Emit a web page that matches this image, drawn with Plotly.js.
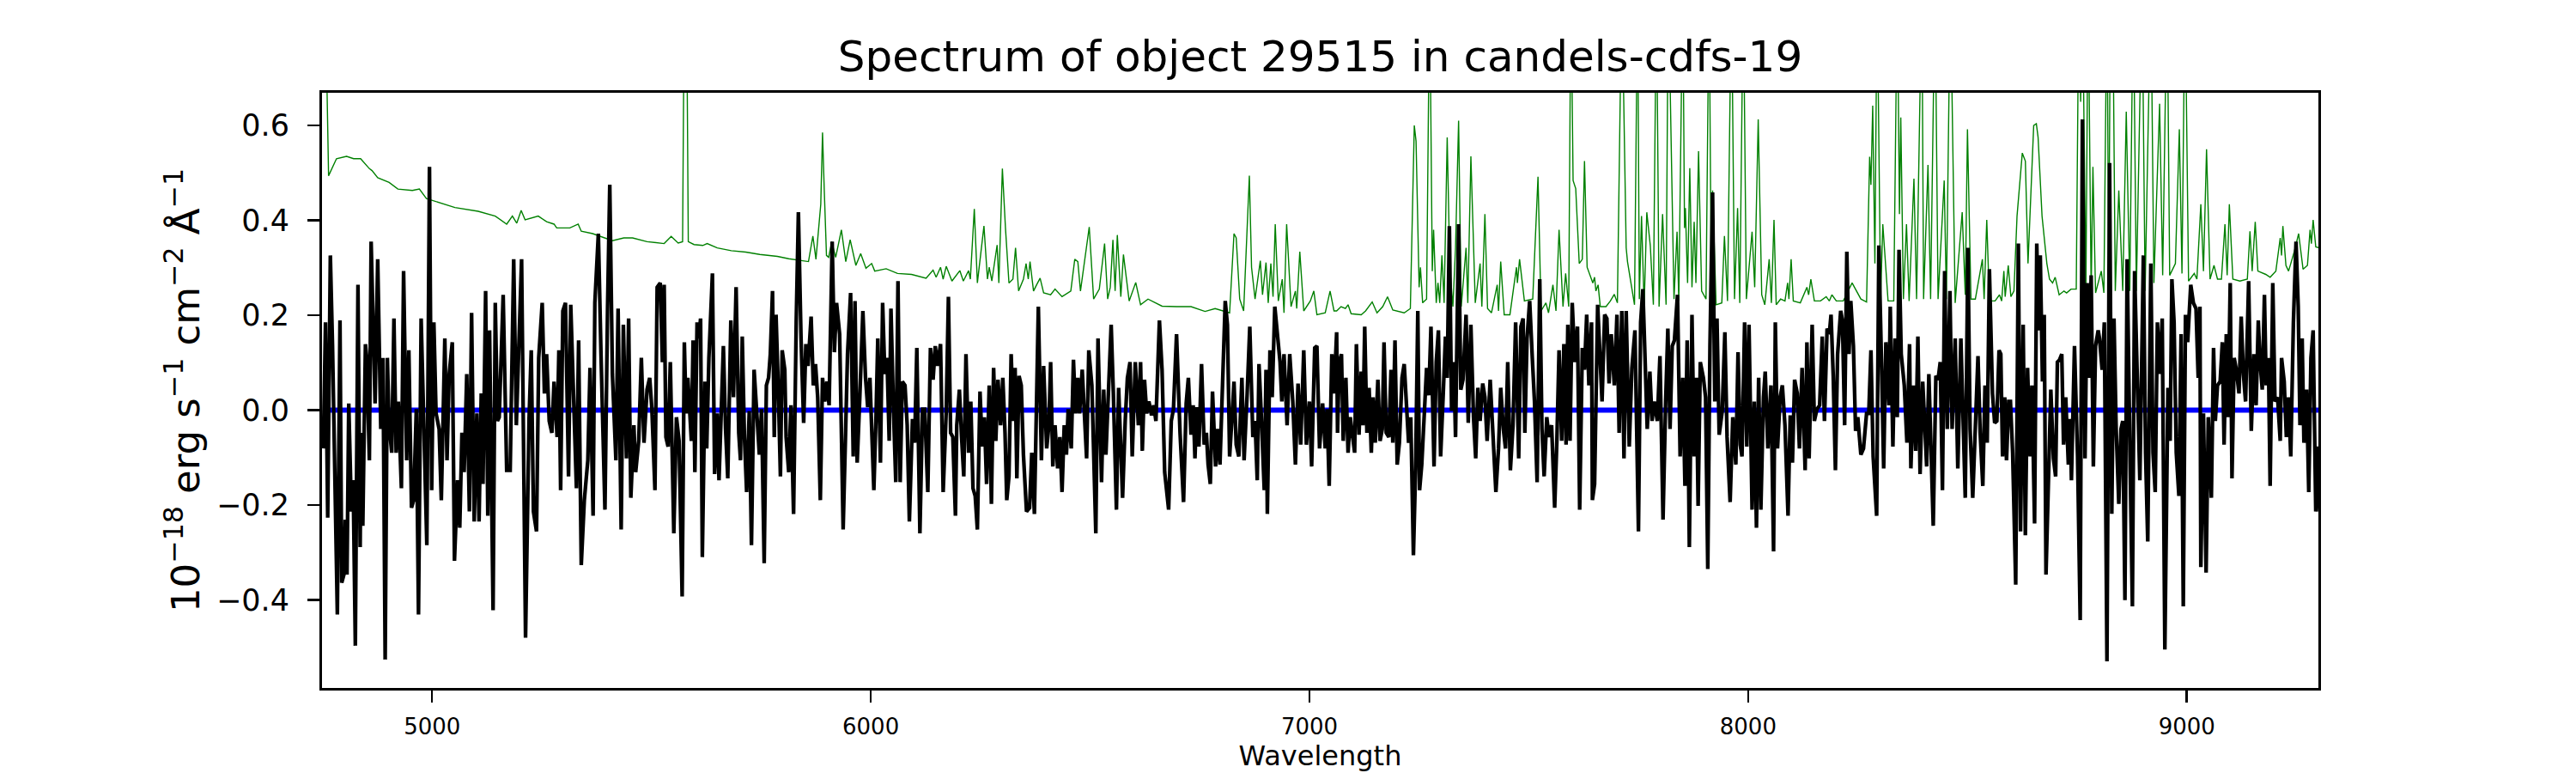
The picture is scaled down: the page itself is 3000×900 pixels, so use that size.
<!DOCTYPE html>
<html>
<head>
<meta charset="utf-8">
<script src="https://cdn.plot.ly/plotly-3.0.1.min.js"></script>
<style>
  html, body { margin: 0; padding: 0; background: #fff; }
  #spec { width: 3000px; height: 900px; }
</style>
</head>
<body>
<div id="spec"></div>
<script>
var fluxWave = [
  4752,4757,4762,4768,4773,4784,4790,4794,4799,4802,
  4806,4810,4816,4820,4825,4831,4836,4838,4842,4848,
  4851,4857,4861,4866,4870,4876,4883,4888,4893,4898,
  4902,4908,4913,4918,4923,4930,4935,4942,4947,4953,
  4958,4964,4969,4975,4982,4988,4994,4999,5004,5009,
  5016,5021,5029,5034,5039,5046,5051,5058,5063,5068,
  5073,5079,5085,5090,5096,5102,5107,5112,5116,5122,
  5127,5131,5139,5144,5149,5153,5162,5170,5178,5186,
  5192,5204,5213,5221,5226,5231,5238,5243,5251,5256,
  5261,5267,5273,5278,5285,5289,5293,5298,5304,5311,
  5316,5323,5329,5334,5340,5347,5355,5360,5367,5371,
  5379,5385,5394,5400,5405,5411,5419,5424,5431,5436,
  5443,5448,5453,5460,5464,5471,5477,5483,5490,5496,
  5501,5508,5513,5520,5525,5529,5533,5538,5543,5551,
  5557,5563,5570,5575,5579,5583,5587,5591,5595,5599,
  5604,5608,5612,5616,5622,5626,5631,5639,5644,5650,
  5654,5659,5664,5669,5674,5681,5687,5693,5699,5703,
  5707,5712,5717,5723,5728,5734,5741,5746,5751,5757,
  5762,5767,5771,5776,5780,5784,5789,5794,5798,5804,
  5807,5813,5818,5824,5830,5835,5841,5847,5852,5857,
  5864,5869,5874,5879,5885,5890,5895,5900,5905,5912,
  5917,5922,5929,5937,5943,5947,5954,5960,5964,5969,
  5975,5982,5988,5993,5998,6002,6007,6012,6016,6022,
  6027,6032,6037,6042,6046,6052,6057,6062,6067,6072,
  6078,6083,6088,6095,6100,6105,6112,6118,6123,6130,
  6136,6142,6147,6152,6159,6165,6172,6177,6182,6187,
  6193,6196,6202,6207,6212,6217,6223,6228,6233,6238,
  6243,6249,6254,6259,6264,6270,6275,6280,6285,6290,
  6296,6301,6306,6310,6315,6320,6325,6329,6333,6338,
  6343,6348,6355,6362,6367,6373,6377,6382,6389,6394,
  6401,6406,6410,6415,6420,6426,6431,6436,6441,6446,
  6450,6457,6462,6467,6472,6476,6482,6487,6492,6497,
  6504,6513,6518,6526,6531,6536,6542,6548,6553,6560,
  6565,6569,6574,6580,6585,6591,6596,6603,6610,6615,
  6619,6624,6629,6634,6640,6645,6650,6658,6664,6670,
  6679,6685,6690,6697,6705,6713,6719,6724,6730,6735,
  6739,6743,6748,6754,6760,6765,6769,6774,6779,6786,
  6791,6796,6801,6808,6813,6818,6824,6828,6833,6839,
  6846,6851,6858,6864,6871,6876,6881,6885,6890,6897,
  6901,6904,6910,6915,6921,6927,6933,6937,6942,6949,
  6955,6962,6968,6974,6980,6987,6993,7000,7005,7012,
  7017,7023,7030,7036,7040,7045,7051,7056,7062,7064,
  7068,7073,7077,7083,7088,7093,7098,7103,7107,7113,
  7118,7122,7126,7131,7136,7141,7145,7150,7156,7161,
  7166,7170,7175,7181,7186,7190,7195,7200,7205,7211,
  7216,7221,7226,7231,7237,7242,7247,7251,7256,7261,
  7267,7272,7277,7284,7289,7294,7299,7305,7310,7314,
  7319,7324,7329,7333,7340,7345,7350,7357,7362,7368,
  7374,7379,7384,7389,7395,7400,7405,7412,7417,7425,
  7431,7436,7442,7447,7452,7458,7464,7470,7477,7482,
  7487,7491,7496,7502,7508,7513,7519,7525,7530,7535,
  7541,7546,7552,7559,7564,7569,7575,7580,7585,7589,
  7594,7599,7605,7611,7616,7622,7627,7632,7637,7643,
  7645,7650,7657,7662,7667,7673,7678,7683,7688,7695,
  7701,7706,7712,7717,7722,7729,7735,7742,7750,7755,
  7760,7765,7770,7776,7781,7786,7793,7799,7806,7812,
  7817,7822,7827,7832,7839,7845,7851,7856,7861,7866,
  7872,7877,7882,7886,7891,7898,7903,7908,7913,7919,
  7924,7929,7934,7941,7947,7952,7959,7965,7972,7977,
  7982,7986,7992,7997,8002,8009,8014,8019,8024,8029,
  8035,8039,8045,8052,8058,8062,8067,8073,8078,8084,
  8091,8096,8101,8106,8112,8117,8123,8130,8134,8139,
  8146,8151,8157,8163,8169,8174,8180,8185,8189,8194,
  8199,8204,8211,8215,8220,8225,8230,8234,8240,8245,
  8250,8257,8263,8270,8275,8280,8285,8293,8298,8304,
  8309,8314,8321,8324,8330,8335,8340,8344,8349,8356,
  8362,8368,8371,8377,8382,8387,8392,8398,8403,8407,
  8412,8417,8422,8428,8433,8438,8443,8448,8454,8460,
  8465,8472,8478,8485,8490,8495,8501,8506,8512,8518,
  8524,8529,8535,8540,8545,8550,8557,8562,8567,8572,
  8576,8580,8585,8589,8594,8598,8603,8610,8616,8621,
  8627,8632,8637,8643,8647,8653,8658,8662,8666,8671,
  8675,8679,8685,8690,8696,8701,8705,8710,8715,8719,
  8724,8730,8734,8737,8744,8751,8757,8762,8768,8773,
  8777,8782,8787,8792,8798,8801,8807,8812,8818,8824,
  8829,8834,8839,8845,8850,8854,8859,8864,8871,8876,
  8881,8886,8893,8901,8906,8911,8918,8923,8928,8933,
  8938,8944,8950,8957,8962,8966,8971,8976,8982,8987,
  8992,8997,9002,9009,9015,9021,9026,9030,9032,9038,
  9044,9049,9056,9061,9065,9070,9076,9081,9085,9090,
  9094,9099,9103,9108,9113,9119,9124,9129,9134,9141,
  9147,9153,9158,9163,9167,9172,9177,9181,9186,9190,
  9196,9201,9207,9213,9216,9222,9227,9232,9237,9243,
  9249,9254,9258,9263,9267,9273,9278,9283,9288,9294,
  9299,9303
];
var fluxValue = [
  -0.081,0.185,-0.227,0.326,0.135,-0.431,0.189,-0.364,-0.347,-0.231,
  -0.347,0.014,-0.214,-0.148,-0.497,0.264,-0.289,-0.048,-0.244,0.139,
  0.110,-0.106,0.355,0.118,0.014,0.318,-0.040,0.110,-0.526,0.110,
  -0.032,-0.090,0.193,-0.090,0.018,-0.165,0.293,-0.106,0.126,-0.206,
  -0.190,0.002,-0.431,0.193,-0.065,-0.285,0.513,-0.169,0.185,-0.007,
  -0.040,-0.190,0.151,-0.106,0.076,0.143,-0.318,-0.148,-0.248,-0.048,
  -0.131,0.076,-0.214,0.205,-0.235,-0.007,-0.235,0.035,-0.156,0.251,
  -0.223,0.168,-0.422,0.226,-0.023,-0.015,0.243,-0.127,-0.127,0.318,
  -0.032,0.318,-0.480,-0.019,0.126,-0.214,-0.256,0.110,0.226,0.035,
  0.118,-0.023,-0.048,0.060,-0.057,0.126,-0.169,0.209,0.226,-0.140,
  0.222,-0.007,-0.165,0.147,-0.327,-0.190,-0.106,0.089,-0.223,0.226,
  0.372,0.118,-0.210,0.218,0.475,0.076,-0.106,0.214,-0.252,0.180,
  -0.102,0.193,-0.185,-0.032,-0.131,-0.065,0.110,-0.069,0.043,0.068,
  0.002,-0.169,0.259,0.268,0.101,0.264,-0.057,-0.077,0.101,-0.260,
  -0.015,-0.065,-0.393,0.143,-0.007,0.068,0.010,-0.065,0.147,-0.131,
  0.185,0.151,0.193,-0.310,0.060,-0.081,0.110,0.288,-0.135,-0.007,
  -0.148,0.010,0.135,-0.040,-0.144,0.189,0.027,0.259,-0.048,-0.106,
  0.155,-0.057,-0.173,-0.002,-0.285,0.085,-0.015,-0.094,0.002,-0.323,
  0.052,0.068,0.118,0.251,-0.057,0.201,0.052,-0.140,0.126,0.085,
  -0.057,-0.131,0.010,-0.219,0.185,0.417,0.151,-0.027,0.139,0.093,
  0.197,0.052,0.097,0.027,-0.190,0.068,0.018,0.060,0.010,0.355,
  0.122,0.226,0.160,-0.252,-0.032,0.118,0.247,-0.098,0.230,-0.111,
  0.027,0.209,0.068,0.006,0.068,-0.027,-0.169,-0.011,0.151,-0.111,
  0.226,0.076,0.110,-0.065,0.214,-0.007,-0.152,0.272,-0.152,0.060,
  0.052,-0.032,-0.235,-0.019,-0.069,0.131,-0.260,0.002,0.002,-0.173,
  0.131,0.064,0.135,0.093,0.139,-0.173,-0.002,0.239,-0.048,-0.057,
  -0.223,-0.032,0.043,-0.057,-0.140,0.118,-0.090,0.018,-0.165,-0.181,
  -0.252,0.039,-0.077,-0.015,-0.156,0.052,-0.198,0.089,-0.065,0.064,
  -0.032,0.068,-0.048,-0.190,-0.140,0.118,-0.023,0.089,-0.144,0.072,
  0.052,-0.094,-0.214,-0.206,-0.090,-0.219,0.018,0.218,-0.106,0.093,
  -0.081,-0.032,0.101,-0.119,-0.032,-0.123,-0.057,-0.173,-0.032,-0.094,
  0.002,-0.081,0.106,-0.007,0.068,-0.007,0.085,-0.015,-0.102,0.126,
  0.052,-0.260,0.151,-0.152,0.043,-0.094,0.043,0.180,0.035,-0.210,
  0.047,-0.040,-0.185,-0.023,0.068,0.101,-0.098,0.101,-0.032,0.101,
  -0.086,0.064,-0.007,0.018,-0.011,0.010,-0.023,0.189,0.085,-0.131,
  -0.210,-0.023,0.002,0.160,-0.048,-0.194,0.014,0.068,-0.052,0.010,
  -0.102,0.006,-0.077,0.097,-0.073,-0.048,-0.115,-0.156,0.039,-0.119,
  -0.040,-0.115,0.027,0.230,0.180,-0.098,-0.007,0.060,-0.073,-0.098,
  0.068,-0.106,0.035,0.176,-0.057,-0.023,-0.148,0.097,-0.007,-0.169,
  0.085,-0.219,0.126,0.027,0.218,0.151,0.101,0.018,0.118,-0.032,
  0.118,0.018,-0.115,0.056,-0.073,0.126,-0.073,0.018,-0.119,0.131,
  0.135,-0.081,0.014,-0.081,0.002,-0.160,0.118,0.035,0.164,-0.048,
  0.101,0.118,-0.065,0.068,-0.090,-0.015,-0.048,-0.090,0.139,-0.052,
  0.081,-0.032,0.176,-0.048,0.047,-0.090,0.027,-0.069,0.064,-0.065,
  -0.040,0.143,-0.048,-0.057,0.085,-0.069,0.147,-0.115,-0.069,0.068,
  0.097,0.002,-0.069,-0.015,-0.306,-0.123,0.209,-0.169,-0.115,-0.023,
  0.089,0.031,0.176,-0.119,0.101,0.168,-0.098,0.035,0.155,0.068,
  0.388,-0.002,0.101,-0.057,0.392,0.043,0.064,0.201,-0.027,0.180,
  -0.015,-0.102,0.047,-0.023,0.056,0.027,-0.065,0.064,-0.023,-0.173,
  -0.081,0.047,-0.040,-0.081,0.101,-0.127,-0.032,0.185,-0.102,0.176,
  0.193,-0.048,0.151,0.230,0.110,0.018,-0.152,0.276,-0.040,-0.140,
  -0.015,-0.057,-0.032,-0.206,-0.065,0.126,-0.065,0.139,-0.073,0.180,
  -0.065,0.226,0.101,0.176,-0.210,0.131,0.085,0.201,0.052,0.185,
  -0.190,-0.156,0.222,0.131,0.018,0.201,0.193,0.056,0.160,0.052,
  0.201,-0.048,0.209,-0.102,0.209,-0.077,0.089,0.168,-0.256,0.185,
  0.255,0.110,-0.040,0.081,-0.023,0.018,-0.023,0.114,-0.231,0.018,
  0.172,-0.040,0.135,0.147,0.243,-0.098,0.068,-0.160,0.147,-0.289,
  0.201,-0.098,0.068,-0.202,0.101,0.068,0.027,-0.335,0.135,0.459,
  0.018,0.193,-0.052,-0.002,0.164,-0.057,-0.194,-0.015,-0.115,0.122,
  -0.073,-0.098,0.185,-0.077,0.180,-0.210,0.018,-0.248,0.068,-0.210,
  0.027,0.081,-0.081,0.052,-0.298,0.185,-0.081,0.027,0.052,-0.032,
  -0.223,-0.011,-0.111,0.064,0.035,-0.081,0.089,-0.127,0.143,-0.102,
  0.180,-0.023,0.002,0.010,0.155,-0.023,0.172,0.160,0.201,0.072,
  -0.127,0.118,0.209,0.189,-0.032,0.334,0.118,0.230,0.135,-0.044,
  -0.015,-0.094,-0.081,-0.007,-0.007,0.126,-0.098,-0.223,0.347,0.101,
  -0.123,0.143,0.010,0.218,-0.077,0.151,-0.015,0.338,0.118,0.052,
  -0.069,0.139,-0.123,0.052,-0.086,0.155,-0.135,0.060,-0.040,-0.119,
  0.076,-0.073,-0.244,0.072,0.064,0.101,-0.169,0.293,-0.040,0.251,
  -0.040,0.151,-0.123,0.151,-0.044,-0.185,0.342,-0.040,-0.185,-0.032,
  0.114,-0.048,-0.160,0.052,-0.069,0.297,0.035,-0.027,-0.023,0.126,
  0.118,-0.098,0.027,-0.106,0.018,0.018,-0.090,-0.368,0.351,-0.256,
  0.180,-0.264,0.089,-0.098,0.052,-0.239,0.351,0.168,0.326,0.060,
  0.201,-0.347,-0.115,0.043,-0.102,-0.140,0.101,0.106,0.118,-0.073,
  0.027,-0.115,-0.019,-0.148,0.135,-0.098,-0.443,0.613,-0.102,0.268,
  0.068,0.284,-0.119,0.135,0.168,0.151,0.085,0.185,-0.530,0.521,
  -0.219,0.193,-0.040,-0.198,-0.040,-0.023,-0.401,0.318,-0.127,-0.414,
  0.293,0.076,-0.148,0.326,-0.090,-0.277,0.309,-0.090,-0.173,0.185,
  0.076,0.193,-0.505,0.047,-0.065,0.276,0.185,-0.090,-0.181,0.160,
  -0.414,0.201,0.143,0.264,0.226,0.214,0.068,0.218,-0.331,-0.007,
  -0.343,-0.015,-0.185,0.131,-0.023,0.052,0.060,0.143,-0.073,0.160,
  -0.015,0.268,-0.144,0.110,0.085,0.035,0.197,0.076,0.018,0.272,
  -0.044,0.118,0.010,0.189,0.101,0.043,0.243,0.052,0.110,-0.160,
  0.268,0.018,0.027,-0.065,0.110,0.060,-0.057,0.027,-0.098,0.185,
  0.355,0.218,-0.032,0.151,-0.069,0.043,-0.173,0.110,0.168,-0.214,
  -0.077,-0.214
];

// error / sky spectrum (green); 0.9 marks lines that run off the top
var skyWave = [
  4750,4760,4764,4782,4805,4821,4837,4857,4863,4876,
  4902,4922,4955,4971,4987,5013,5052,5105,5144,5170,
  5183,5193,5203,5212,5242,5261,5278,5284,5314,5333,
  5340,5366,5411,5437,5457,5490,5529,5545,5561,5571,
  5575,5580,5584,5597,5617,5627,5650,5682,5715,5747,
  5787,5813,5858,5868,5875,5886,5890,5894,5899,5904,
  5911,5920,5933,5943,5953,5966,5977,5989,6002,6009,
  6035,6061,6093,6126,6142,6149,6159,6165,6172,6185,
  6203,6211,6223,6227,6236,6243,6258,6266,6270,6276,
  6288,6292,6300,6307,6315,6324,6330,6337,6348,6354,
  6359,6363,6371,6378,6386,6394,6410,6420,6436,6456,
  6465,6472,6478,6498,6508,6521,6533,6540,6546,6552,
  6557,6562,6570,6576,6589,6604,6615,6632,6664,6697,
  6730,6762,6785,6818,6828,6833,6841,6850,6863,6868,
  6876,6888,6893,6901,6906,6912,6917,6922,6929,6938,
  6942,6948,6958,6968,6971,6978,6987,7002,7010,7017,
  7036,7047,7056,7062,7072,7082,7088,7095,7118,7128,
  7143,7154,7167,7178,7190,7216,7230,7239,7243,7250,
  7253,7258,7267,7274,7280,7283,7289,7293,7297,7302,
  7307,7314,7320,7327,7333,7340,7346,7357,7361,7368,
  7378,7389,7393,7400,7406,7415,7428,7431,7436,7444,
  7457,7465,7472,7474,7479,7490,7509,7521,7528,7539,
  7545,7555,7562,7569,7578,7584,7591,7596,7601,7607,
  7615,7622,7627,7633,7640,7646,7650,7653,7658,7663,
  7676,7686,7695,7702,7712,7722,7725,7741,7748,7752,
  7757,7763,7769,7777,7784,7791,7797,7805,7813,7818,
  7831,7838,7842,7851,7855,7857,7862,7867,7872,7877,
  7881,7887,7894,7904,7911,7916,7919,7927,7940,7946,
  7953,7962,7969,7976,7981,7989,7996,8009,8015,8023,
  8031,8038,8048,8053,8059,8064,8074,8084,8090,8093,
  8098,8103,8119,8134,8138,8143,8151,8165,8178,8185,
  8191,8201,8217,8237,8257,8270,8277,8280,8284,8289,
  8294,8302,8307,8319,8332,8340,8345,8348,8354,8361,
  8367,8378,8384,8396,8400,8410,8416,8426,8433,8447,
  8452,8461,8472,8488,8495,8500,8508,8518,8534,8538,
  8544,8550,8563,8573,8578,8583,8586,8593,8599,8606,
  8613,8625,8632,8638,8651,8657,8661,8670,8681,8687,
  8694,8700,8709,8720,8726,8736,8748,8754,8758,8762,
  8770,8775,8782,8786,8792,8805,8811,8818,8822,8826,
  8831,8837,8845,8854,8862,8870,8878,8885,8898,8905,
  8918,8925,8938,8945,8955,8961,8974,8983,8989,8996,
  9004,9017,9023,9032,9038,9045,9053,9062,9070,9079,
  9087,9092,9097,9105,9121,9138,9144,9149,9156,9162,
  9180,9190,9203,9213,9216,9219,9226,9232,9245,9255,
  9265,9275,9281,9284,9288,9294,9303
];
var skyValue = [
  0.95,0.70,0.494,0.530,0.535,0.530,0.530,0.509,0.505,0.490,
  0.480,0.466,0.463,0.466,0.446,0.438,0.427,0.419,0.409,0.392,
  0.409,0.394,0.421,0.401,0.409,0.397,0.392,0.384,0.384,0.392,
  0.377,0.372,0.357,0.363,0.363,0.355,0.351,0.366,0.352,0.355,
  0.9,0.9,0.355,0.349,0.347,0.351,0.342,0.336,0.333,0.328,
  0.324,0.319,0.313,0.367,0.318,0.434,0.585,0.463,0.326,0.322,
  0.355,0.322,0.380,0.313,0.359,0.305,0.330,0.299,0.309,0.293,
  0.298,0.288,0.286,0.278,0.295,0.280,0.301,0.276,0.303,0.272,
  0.294,0.272,0.294,0.276,0.424,0.268,0.388,0.276,0.301,0.272,
  0.348,0.268,0.509,0.384,0.268,0.276,0.342,0.251,0.276,0.309,
  0.276,0.313,0.251,0.264,0.278,0.247,0.243,0.255,0.239,0.251,
  0.318,0.313,0.251,0.386,0.234,0.255,0.351,0.234,0.259,0.359,
  0.251,0.369,0.239,0.328,0.230,0.269,0.222,0.234,0.219,0.218,
  0.218,0.208,0.214,0.205,0.372,0.363,0.234,0.209,0.494,0.301,
  0.234,0.315,0.243,0.311,0.226,0.309,0.239,0.392,0.230,0.276,
  0.205,0.392,0.218,0.251,0.214,0.334,0.209,0.230,0.251,0.201,
  0.205,0.251,0.209,0.209,0.218,0.214,0.222,0.203,0.201,0.209,
  0.228,0.205,0.218,0.239,0.211,0.205,0.214,0.600,0.567,0.259,
  0.301,0.226,0.234,0.9,0.293,0.380,0.226,0.268,0.226,0.326,
  0.226,0.575,0.301,0.218,0.342,0.610,0.218,0.342,0.226,0.535,
  0.226,0.309,0.218,0.413,0.214,0.205,0.264,0.209,0.313,0.201,
  0.201,0.255,0.301,0.268,0.318,0.230,0.234,0.492,0.209,0.226,
  0.205,0.264,0.209,0.380,0.218,0.288,0.218,0.9,0.484,0.467,
  0.309,0.318,0.525,0.301,0.284,0.268,0.280,0.251,0.264,0.218,
  0.218,0.230,0.244,0.226,0.9,0.342,0.313,0.222,0.9,0.234,
  0.409,0.218,0.417,0.347,0.222,0.9,0.218,0.413,0.222,0.9,
  0.234,0.376,0.230,0.9,0.384,0.426,0.268,0.510,0.259,0.397,
  0.268,0.546,0.251,0.234,0.9,0.259,0.463,0.222,0.226,0.367,
  0.230,0.9,0.234,0.426,0.226,0.9,0.234,0.376,0.259,0.613,
  0.243,0.222,0.318,0.226,0.401,0.222,0.234,0.230,0.268,0.234,
  0.318,0.230,0.226,0.259,0.243,0.276,0.230,0.230,0.239,0.230,
  0.243,0.230,0.230,0.268,0.234,0.228,0.534,0.475,0.642,0.309,
  0.9,0.234,0.392,0.230,0.230,0.9,0.413,0.617,0.234,0.392,
  0.230,0.488,0.234,0.9,0.234,0.517,0.234,0.9,0.234,0.484,
  0.234,0.9,0.226,0.417,0.243,0.592,0.234,0.234,0.318,0.234,
  0.401,0.230,0.230,0.243,0.230,0.293,0.239,0.305,0.239,0.251,
  0.409,0.542,0.525,0.309,0.600,0.604,0.575,0.409,0.309,0.276,
  0.268,0.280,0.243,0.251,0.247,0.255,0.255,0.9,0.650,0.9,
  0.251,0.9,0.247,0.513,0.247,0.293,0.247,0.9,0.268,0.9,
  0.9,0.251,0.463,0.251,0.629,0.251,0.9,0.251,0.9,0.251,
  0.9,0.268,0.646,0.284,0.9,0.284,0.309,0.592,0.288,0.9,
  0.272,0.288,0.276,0.434,0.293,0.550,0.276,0.305,0.276,0.276,
  0.392,0.284,0.434,0.276,0.272,0.276,0.377,0.293,0.397,0.293,
  0.286,0.280,0.293,0.363,0.326,0.388,0.305,0.293,0.334,0.372,
  0.297,0.305,0.380,0.351,0.401,0.344,0.342
];

// model continuum (blue), flat at zero
var modelWave = [4752, 9303];
var modelValue = [0, 0];

var xTicks = [5000, 6000, 7000, 8000, 9000];
var yTicks = [-0.4, -0.2, 0.0, 0.2, 0.4, 0.6];

var traces = [
  {x: skyWave, y: skyValue, mode: 'lines', line: {color: '#008000', width: 1.4}, hoverinfo: 'skip'},
  {x: modelWave, y: modelValue, mode: 'lines', line: {color: '#0000ff', width: 6}, hoverinfo: 'skip'},
  {x: fluxWave, y: fluxValue, mode: 'lines', line: {color: '#000000', width: 4.3}, hoverinfo: 'skip'}
];

var layout = {
  width: 3000,
  height: 900,
  showlegend: false,
  paper_bgcolor: '#ffffff',
  plot_bgcolor: '#ffffff',
  font: {family: 'DejaVu Sans', color: '#000000'},
  margin: {l: 375, r: 300, t: 108, b: 99, pad: 0},
  title: {
    text: 'Spectrum of object 29515 in candels-cdfs-19',
    font: {size: 50, family: 'DejaVu Sans', color: '#000000'},
    x: 0.5, xref: 'paper', xanchor: 'center',
    y: 0.927, yref: 'container', yanchor: 'middle'
  },
  xaxis: {
    range: [4749, 9300],
    tickvals: xTicks,
    tickfont: {size: 26},
    ticks: 'outside', ticklen: 14, tickwidth: 2.5, tickcolor: '#000',
    ticklabelstandoff: 6,
    showline: true, mirror: true, linecolor: '#000', linewidth: 3,
    showgrid: false, zeroline: false,
    title: {text: 'Wavelength', font: {size: 32}, standoff: 2}
  },
  yaxis: {
    range: [-0.586, 0.669],
    tickvals: yTicks,
    tickformat: '.1f',
    tickfont: {size: 35},
    ticks: 'outside', ticklen: 14, tickwidth: 2.5, tickcolor: '#000',
    ticklabelstandoff: 14,
    showline: true, mirror: true, linecolor: '#000', linewidth: 3,
    showgrid: false, zeroline: false,
    title: {
      text: '10<sup>\u221218</sup> erg s<sup>\u22121</sup> cm<sup>\u22122</sup> \u00c5<sup>\u22121</sup>',
      font: {size: 45}, standoff: 6
    }
  }
};

Plotly.newPlot('spec', traces, layout, {staticPlot: true, displayModeBar: false});
</script>
</body>
</html>
